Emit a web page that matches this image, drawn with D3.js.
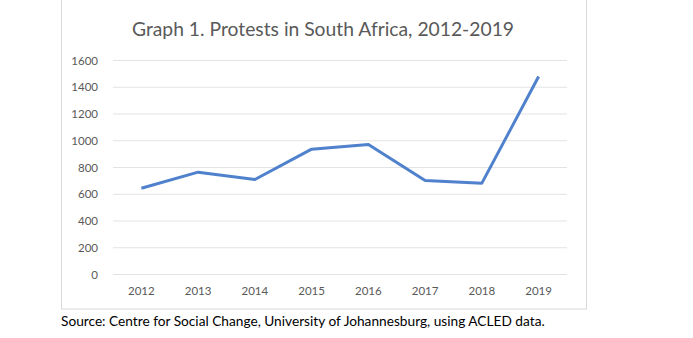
<!DOCTYPE html>
<html>
<head>
<meta charset="utf-8">
<script src="https://cdn.jsdelivr.net/npm/d3@7"></script>
<style>
  html, body { margin: 0; padding: 0; background: #fff; }
  svg { display: block; }
</style>
</head>
<body>
<svg id="chart" width="693" height="338"></svg>
<script>
// Annual protest counts, South Africa
const years = ["2012", "2013", "2014", "2015", "2016", "2017", "2018", "2019"];
const protests = [645, 765, 710, 937, 972, 703, 683, 1480];
const yTicks = [0, 200, 400, 600, 800, 1000, 1200, 1400, 1600];

const svg = d3.select("#chart");
const font = "Lato, 'Open Sans', 'Liberation Sans', sans-serif";

// chart frame
svg.append("rect")
  .attr("x", 61.5).attr("y", -2)
  .attr("width", 525).attr("height", 311)
  .attr("fill", "#fff")
  .attr("stroke", "#d9d9d9").attr("stroke-width", 1);

const plot = { left: 113, right: 567, top: 60.5, bottom: 274.5 };

const x = d3.scaleBand().domain(years).range([plot.left, plot.right]);
const y = d3.scaleLinear().domain([0, 1600]).range([plot.bottom, plot.top]);

// horizontal gridlines
svg.append("g")
  .selectAll("line")
  .data(yTicks)
  .join("line")
  .attr("x1", plot.left).attr("x2", plot.right)
  .attr("y1", d => y(d)).attr("y2", d => y(d))
  .attr("stroke", "#e3e3e3").attr("stroke-width", 1);

// y axis labels
const yAxis = svg.append("g")
  .attr("transform", `translate(${plot.left - 15},0)`)
  .call(d3.axisLeft(y).tickValues(yTicks).tickFormat(d3.format("d")).tickSize(0).tickPadding(0));
yAxis.select(".domain").remove();
yAxis.selectAll("text")
  .attr("font-family", font).attr("font-size", 11.5)
  .attr("fill", "#595959");

// x axis labels
const xAxis = svg.append("g")
  .attr("transform", `translate(0,${plot.bottom + 12})`)
  .call(d3.axisBottom(x).tickSize(0).tickPadding(0));
xAxis.select(".domain").remove();
xAxis.selectAll("text")
  .attr("font-family", font).attr("font-size", 11.5)
  .attr("fill", "#595959");

// protest line
const line = d3.line()
  .x((d, i) => x(years[i]) + x.bandwidth() / 2)
  .y(d => y(d));

svg.append("path")
  .datum(protests)
  .attr("d", line)
  .attr("fill", "none")
  .attr("stroke", "#4f81cc")
  .attr("stroke-width", 3)
  .attr("stroke-linejoin", "round");

// title
svg.append("text")
  .attr("x", 323).attr("y", 36)
  .attr("text-anchor", "middle")
  .attr("font-family", font).attr("font-size", 19.3)
  .attr("fill", "#595959")
  .text("Graph 1. Protests in South Africa, 2012-2019");

// source note
svg.append("text")
  .attr("x", 61).attr("y", 326)
  .attr("font-family", font).attr("font-size", 13.7)
  .attr("fill", "#000")
  .text("Source: Centre for Social Change, University of Johannesburg, using ACLED data.");
</script>
</body>
</html>
